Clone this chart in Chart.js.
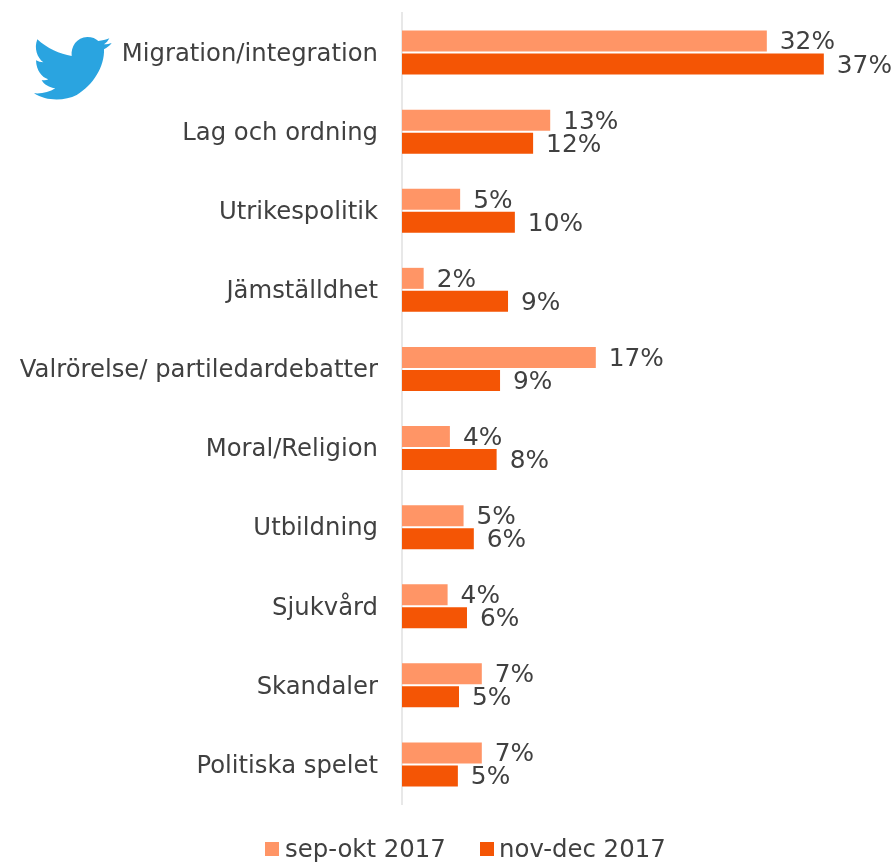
<!DOCTYPE html>
<html><head><meta charset="utf-8">
<style>
html,body{margin:0;padding:0;background:#fff;width:896px;height:863px;overflow:hidden}
#wrap{position:relative;width:896px;height:863px}
canvas{display:block}
#bird{position:absolute;left:30px;top:30px;width:85px;height:75px}
</style>
<script src="https://cdn.jsdelivr.net/npm/chart.js@4/dist/chart.umd.min.js"></script>
</head><body>
<div id="wrap"><canvas id="c" width="896" height="863"></canvas>
<svg id="bird" viewBox="0 0 255 225"><path fill="#2AA4E0" d="M22 28C50 55 90 72 125 78C122 50 140 22 172 21C186 21 198 26 205 33C216 32 228 29 238 25C234 33 229 38 222 43C231 43 238 41 245 39C239 47 231 53 222 58C224 110 190 165 140 195C105 213 50 215 12 190C35 192 58 187 76 175C58 172 42 164 35 150C42 151 49 151 55 148C35 142 19 122 18 91C25 95 32 97 40 97C22 84 11 55 22 28Z"/></svg>
</div>
<script>
const categories = ["Migration/integration","Lag och ordning","Utrikespolitik","Jämställdhet","Valrörelse/ partiledardebatter","Moral/Religion","Utbildning","Sjukvård","Skandaler","Politiska spelet"];
const seriesNames = ["sep-okt 2017","nov-dec 2017"];
const sepOkt = [32,13,5.1,1.9,17,4.2,5.4,4,7,7];
const novDec = [37,11.5,9.9,9.3,8.6,8.3,6.3,5.7,5,4.9];
const sepOktLabels = ["32%","13%","5%","2%","17%","4%","5%","4%","7%","7%"];
const novDecLabels = ["37%","12%","10%","9%","9%","8%","6%","6%","5%","5%"];
const colours = ['#FF9566','#F45505'];
const FONT = '"DejaVu Sans"';
const TEXT = '#404040';
const valueLabels = {
  id:'valueLabels',
  afterDatasetsDraw(chart){
    const ctx = chart.ctx, sets = [sepOktLabels, novDecLabels];
    ctx.save();
    ctx.font = '24.8px '+FONT; ctx.fillStyle = TEXT;
    ctx.textAlign='left'; ctx.textBaseline='middle';
    sets.forEach((labels,d)=>{
      chart.getDatasetMeta(d).data.forEach((bar,i)=>{
        ctx.fillText(labels[i], bar.x+13, bar.y+2);
      });
    });
    ctx.restore();
  }
};
const bottomLegend = {
  id:'bottomLegend',
  afterDraw(chart){
    const ctx = chart.ctx;
    const items = [{box:265,text:285},{box:480,text:499}];
    ctx.save();
    ctx.font = '24.4px '+FONT; ctx.textAlign='left'; ctx.textBaseline='middle';
    items.forEach((it,i)=>{
      ctx.fillStyle = colours[i];
      ctx.fillRect(it.box,842,14,14);
      ctx.fillStyle = TEXT;
      ctx.fillText(seriesNames[i], it.text, 851);
    });
    ctx.restore();
  }
};
new Chart(document.getElementById('c'),{
  type:'bar',
  data:{labels:categories,datasets:[
    {label:seriesNames[0],data:sepOkt,backgroundColor:colours[0],categoryPercentage:0.582,barPercentage:0.913},
    {label:seriesNames[1],data:novDec,backgroundColor:colours[1],categoryPercentage:0.582,barPercentage:0.913}
  ]},
  plugins:[valueLabels,bottomLegend],
  options:{
    indexAxis:'y',responsive:false,animation:false,
    layout:{padding:{top:13,bottom:59,left:0,right:0}},
    scales:{
      x:{display:false,min:0,max:43.33},
      y:{
        grid:{display:false,drawTicks:false},
        border:{display:true,color:'#E8E8E8',width:2},
        ticks:{font:{family:FONT,size:24.3},color:TEXT,padding:24,autoSkip:false,labelOffset:2},
        afterFit(s){s.width=402;s.paddingTop=0;s.paddingBottom=0;}
      }
    },
    plugins:{
      tooltip:{enabled:false},
      legend:{display:false}
    }
  }
});
</script>
</body></html>
